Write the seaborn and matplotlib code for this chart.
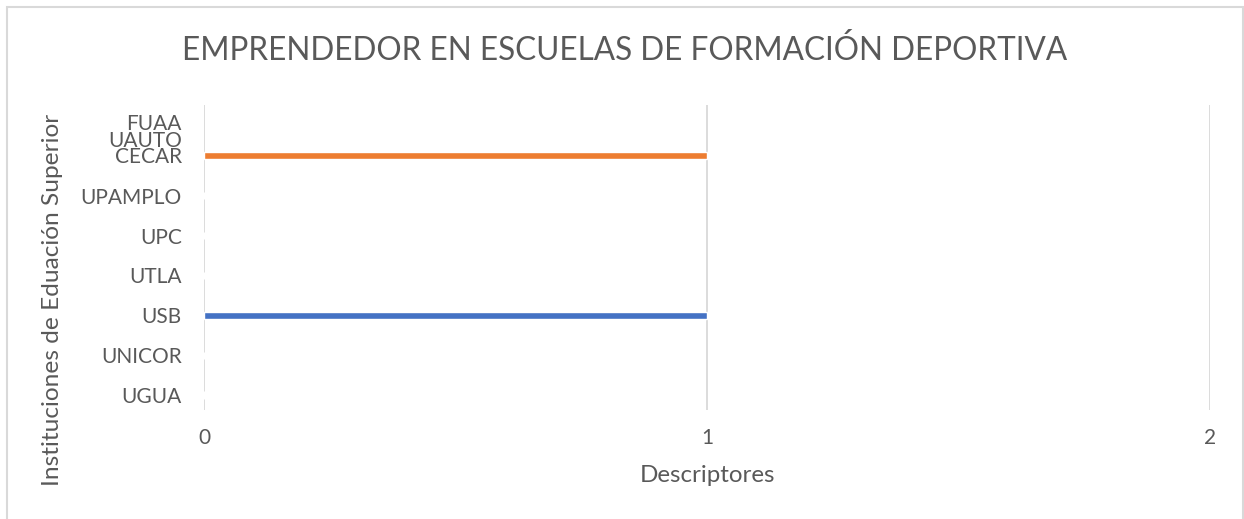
import matplotlib
matplotlib.use("Agg")
import matplotlib.pyplot as plt
from matplotlib.patches import Rectangle
import seaborn as sns
import pandas as pd

# datos
instituciones = ['UGUA', 'UNICOR', 'USB', 'UTLA', 'UPC', 'UPAMPLO', 'CECAR', 'UAUTO', 'FUAA']
descriptores = [0, 0, 1, 0, 0, 0, 1, 0, 0]
colores = ['#4472C4', '#4472C4', '#4472C4', '#4472C4', '#4472C4', '#4472C4',
           '#ED7D31', '#ED7D31', '#ED7D31']
ticks_x = [0, 1, 2]

titulo = 'EMPRENDEDOR EN ESCUELAS DE FORMACIÓN DEPORTIVA'
etiqueta_x = 'Descriptores'
etiqueta_y = 'Instituciones de Eduación Superior'

sns.set_style('white')
plt.rcParams['font.family'] = ['Lato', 'DejaVu Sans']
gris = '#595959'
linea = '#D9D9D9'

# las tres ultimas etiquetas comparten la posicion superior
n_pos = 7
df = pd.DataFrame({'Institucion': instituciones[:n_pos],
                   'Descriptores': descriptores[:n_pos]})
orden = instituciones[:n_pos][::-1]
paleta = dict(zip(instituciones[:n_pos], colores[:n_pos]))

fig = plt.figure(figsize=(12.44, 5.19), dpi=100)
ax = fig.add_axes([204 / 1244, 1 - 410 / 519, (1210 - 204) / 1244, (410 - 105) / 519])

sns.barplot(data=df, x='Descriptores', y='Institucion', hue='Institucion',
            order=orden, palette=paleta, width=0.18, legend=False, ax=ax,
            saturation=1)

ax.set_xlim(0, 2)
ax.set_ylim(6.375, -1.275)
ax.set_xticks(ticks_x)
ax.set_xticklabels([str(t) for t in ticks_x])
ax.grid(axis='x', color=linea, linewidth=1.3)
ax.set_axisbelow(True)
for s in ax.spines.values():
    s.set_visible(False)

etiquetas = [t if t != 'CECAR' else '' for t in orden]
ax.set_yticks(range(n_pos))
ax.set_yticklabels(etiquetas)
ax.tick_params(axis='y', length=0, pad=16, labelsize=15, labelcolor=gris)
ax.tick_params(axis='x', length=0, pad=13, labelsize=15, labelcolor=gris)

texto_sup = '\n'.join(instituciones[n_pos - 1:][::-1])
ax.annotate(texto_sup, xy=(0, 0), xycoords=ax.get_yaxis_transform(),
            xytext=(-16, -5.5), textcoords='offset points', ha='right',
            va='baseline', fontsize=15, color=gris, linespacing=0.8,
            multialignment='right')

ax.set_xlabel(etiqueta_x, fontsize=17.4, color=gris, labelpad=12)
ax.set_ylabel('')
fig.text(53 / 1244, 1 - 300 / 519, etiqueta_y, rotation=90, ha='center',
         va='center', fontsize=17.6, color=gris)

fig.text(625 / 1244, 1 - 51 / 519, titulo, ha='center', va='center',
         fontsize=22.7, color=gris)

fig.patches.append(Rectangle((7 / 1244, -0.1), (1243 - 7) / 1244, 1.1 - 7 / 519,
                             transform=fig.transFigure, fill=False,
                             edgecolor=linea, linewidth=1.5))

fig.savefig('out.png', dpi=100, facecolor='white')
